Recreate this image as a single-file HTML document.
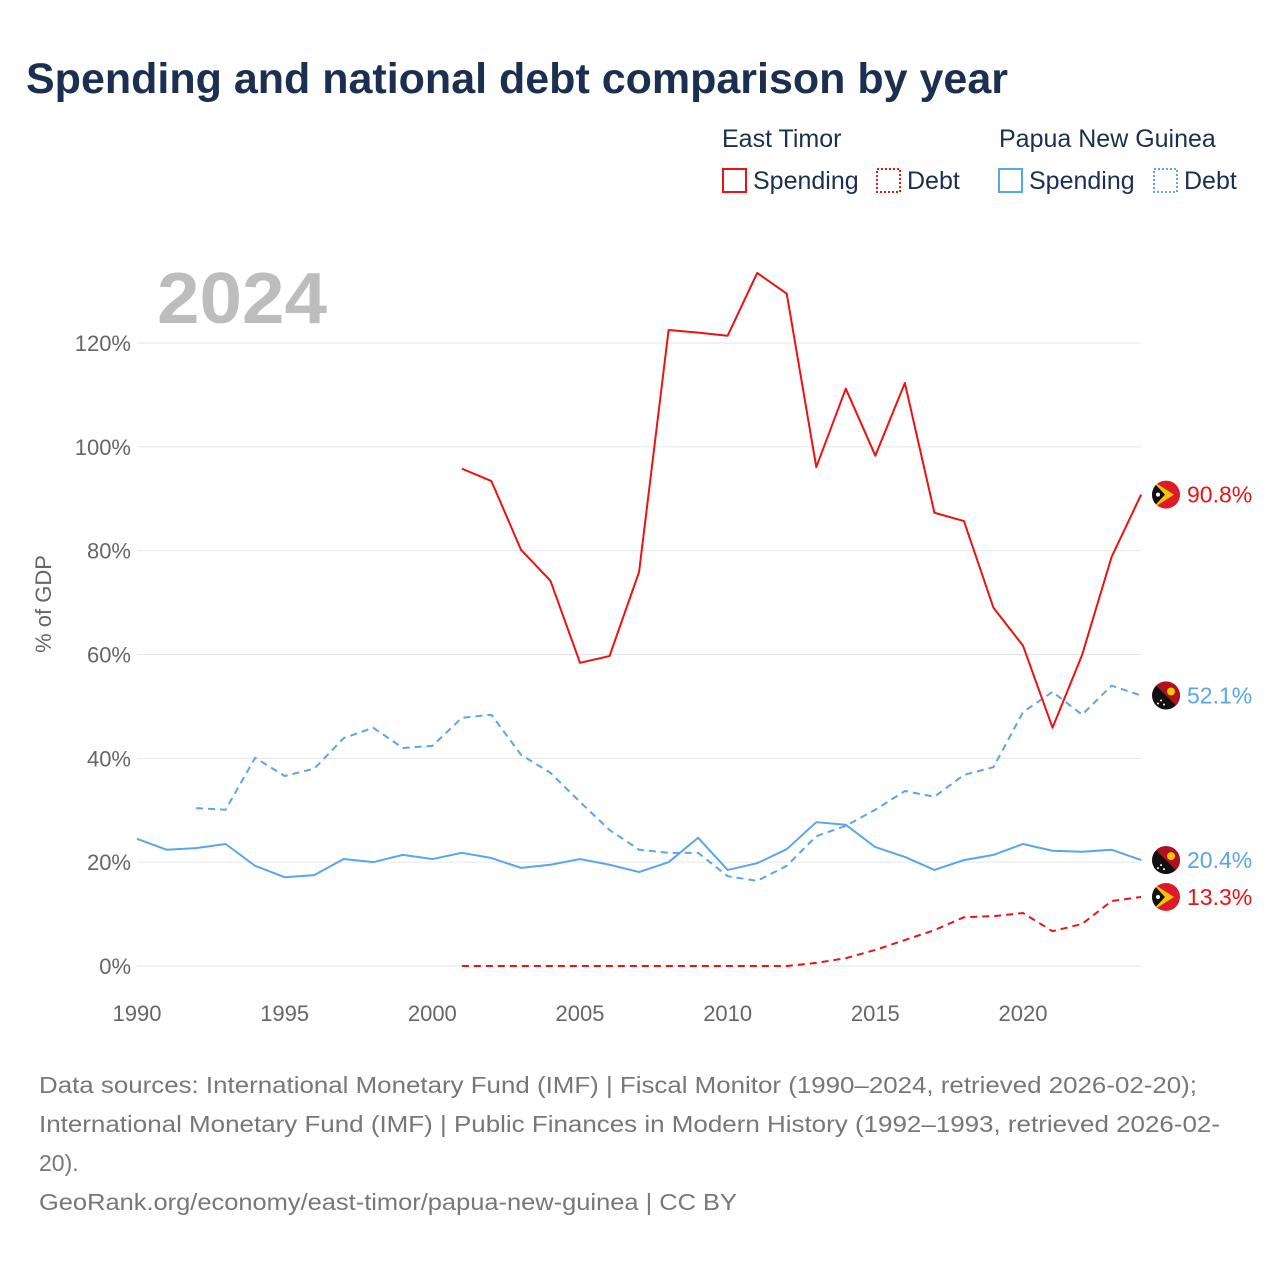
<!DOCTYPE html>
<html><head><meta charset="utf-8">
<style>
body{margin:0;background:#fff;font-family:"Liberation Sans",sans-serif;}
#wrap{position:relative;width:1280px;height:1280px;overflow:hidden;}
</style></head>
<body><div id="wrap">
<svg id="chart" width="1280" height="1280" xmlns="http://www.w3.org/2000/svg">
<text x="26" y="93" font-size="43" font-weight="bold" fill="#1b2f50">Spending and national debt comparison by year</text>
<g font-size="25" fill="#1b2f50">
<text x="722" y="147">East Timor</text>
<text x="999" y="147">Papua New Guinea</text>
<g><rect x="723" y="169" width="23" height="23" fill="none" stroke="#ee1111" stroke-width="2"/><text x="753" y="189">Spending</text></g>
<g><rect x="877" y="169" width="23" height="23" fill="none" stroke="#ee1111" stroke-width="2" stroke-dasharray="2,2"/><text x="907" y="189">Debt</text></g>
<g><rect x="999" y="169" width="23" height="23" fill="none" stroke="#5aa5ee" stroke-width="2"/><text x="1029" y="189">Spending</text></g>
<g><rect x="1154" y="169" width="23" height="23" fill="none" stroke="#5aa5ee" stroke-width="2" stroke-dasharray="2,2"/><text x="1184" y="189">Debt</text></g>
</g>
<text x="157" y="323" font-size="72" font-weight="bold" fill="#bdbdbd" textLength="170" lengthAdjust="spacingAndGlyphs">2024</text>
<text transform="translate(51,604) rotate(-90)" text-anchor="middle" font-size="22" fill="#666">% of GDP</text>
<g id="grid"></g><g id="series"></g><g id="ends"></g>
<g font-size="23" fill="#777">
<text x="39" y="1093" textLength="1158" lengthAdjust="spacingAndGlyphs">Data sources: International Monetary Fund (IMF) | Fiscal Monitor (1990–2024, retrieved 2026-02-20);</text>
<text x="39" y="1132" textLength="1181" lengthAdjust="spacingAndGlyphs">International Monetary Fund (IMF) | Public Finances in Modern History (1992–1993, retrieved 2026-02-</text>
<text x="39" y="1171">20).</text>
<text x="39" y="1210" textLength="698" lengthAdjust="spacingAndGlyphs">GeoRank.org/economy/east-timor/papua-new-guinea | CC BY</text>
</g>
</svg>
<script>
const yTicks=[0,20,40,60,80,100,120];
const xTicks=[1990,1995,2000,2005,2010,2015,2020];
const etYears=[2001,2002,2003,2004,2005,2006,2007,2008,2009,2010,2011,2012,2013,2014,2015,2016,2017,2018,2019,2020,2021,2022,2023,2024];
const etSpending=[95.8,93.4,80.2,74.2,58.4,59.7,75.9,122.5,122,121.4,133.5,129.5,96.1,111.2,98.3,112.3,87.3,85.7,69,61.7,45.9,59.9,78.8,90.8];
const etDebt=[0,0,0,0,0,0,0,0,0,0,0,0,0.6,1.5,3.1,5,6.9,9.4,9.6,10.2,6.7,8.1,12.5,13.3];
const pngSpendYears=[1990,1991,1992,1993,1994,1995,1996,1997,1998,1999,2000,2001,2002,2003,2004,2005,2006,2007,2008,2009,2010,2011,2012,2013,2014,2015,2016,2017,2018,2019,2020,2021,2022,2023,2024];
const pngSpending=[24.5,22.4,22.7,23.5,19.3,17.1,17.5,20.6,20,21.4,20.6,21.8,20.8,18.9,19.5,20.6,19.5,18.1,20,24.7,18.5,19.8,22.5,27.7,27.2,22.9,21,18.5,20.4,21.4,23.5,22.2,22,22.4,20.4];
const pngDebtYears=[1992,1993,1994,1995,1996,1997,1998,1999,2000,2001,2002,2003,2004,2005,2006,2007,2008,2009,2010,2011,2012,2013,2014,2015,2016,2017,2018,2019,2020,2021,2022,2023,2024];
const pngDebt=[30.4,30.1,40.1,36.6,38,43.9,45.9,42,42.4,47.8,48.4,40.7,37.2,31.6,26.2,22.4,21.8,21.8,17.3,16.4,19.3,25,27,30.1,33.7,32.6,36.8,38.3,48.9,52.8,48.4,54,52.1];

const NS='http://www.w3.org/2000/svg';
const x=y=>137+(y-1990)*(1023-137)/30;
const yv=v=>966-v*(966-343)/120;
function mk(tag,attrs,parent){const e=document.createElementNS(NS,tag);for(const k in attrs)e.setAttribute(k,attrs[k]);parent.appendChild(e);return e;}
const grid=document.getElementById('grid'),series=document.getElementById('series'),ends=document.getElementById('ends');
yTicks.forEach(t=>{
 const l=mk('line',{x1:137,x2:1141,y1:yv(t),y2:yv(t),stroke:'#e6e6e6','stroke-width':1},grid);
 
 
 const tx=mk('text',{x:131,y:yv(t)+8,'text-anchor':'end','font-size':22,fill:'#666'},grid);tx.textContent=t+'%';
 
 
});
xTicks.forEach(t=>{
 const tx=mk('text',{x:x(t),y:1021,'text-anchor':'middle','font-size':22,fill:'#666'},grid);tx.textContent=t;
 
 
});
function line(xs,vs,color,dash,name){
 const p=mk('polyline',{points:xs.map((d,i)=>x(d)+','+yv(vs[i])).join(' '),fill:'none',stroke:color,'stroke-width':2,'stroke-dasharray':dash,'stroke-linejoin':'round'},series);
 
 
}
line(pngSpendYears,pngSpending,'#5aa5ee','none','line-png-spending');
line(pngDebtYears,pngDebt,'#5aa5ee','7,5','line-png-debt');
line(etYears,etSpending,'#ee1111','none','line-et-spending');
line(etYears,etDebt,'#ee1111','7,5','line-et-debt');
function flag(cy,type,val,color,name){
 const g=mk('g',{transform:'translate(1166,'+cy+')'},ends);
 
 
 mk('clipPath',{id:'c'+name},g).appendChild(document.createElementNS(NS,'circle')).setAttribute('r',14);
 const f=mk('g',{'clip-path':'url(#c'+name+')'},g);
 if(type==='et'){
  mk('rect',{x:-14,y:-14,width:28,height:28,fill:'#dc1a2a'},f);
  mk('polygon',{points:'-14,-14 8,0 -14,14',fill:'#f7c600'},f);
  mk('polygon',{points:'-14,-14 -1,0 -14,14',fill:'#111'},f);
  mk('circle',{cx:-8,cy:0,r:2,fill:'#fff'},f);
 }else{
  mk('rect',{x:-14,y:-14,width:28,height:28,fill:'#111'},f);
  mk('polygon',{points:'-14,-14 14,-14 14,14',fill:'#b01020'},f);
  mk('circle',{cx:5,cy:-4,r:4,fill:'#f7c600'},f);
  mk('circle',{cx:-5,cy:5,r:1,fill:'#fff'},f);mk('circle',{cx:-2,cy:9,r:1,fill:'#fff'},f);mk('circle',{cx:-8,cy:8,r:1,fill:'#fff'},f);
 }
 const t=mk('text',{x:1187,y:cy+8,'font-size':23,fill:color},ends);t.textContent=val.toFixed(1)+'%';
 
 
}
flag(yv(etSpending[etSpending.length-1]),'et',etSpending[etSpending.length-1],'#ee1111','end-et-spending');
flag(yv(pngDebt[pngDebt.length-1]),'png',pngDebt[pngDebt.length-1],'#5aa5ee','end-png-debt');
flag(yv(pngSpending[pngSpending.length-1]),'png',pngSpending[pngSpending.length-1],'#5aa5ee','end-png-spending');
flag(yv(etDebt[etDebt.length-1]),'et',etDebt[etDebt.length-1],'#ee1111','end-et-debt');
</script>
</div></body></html>
